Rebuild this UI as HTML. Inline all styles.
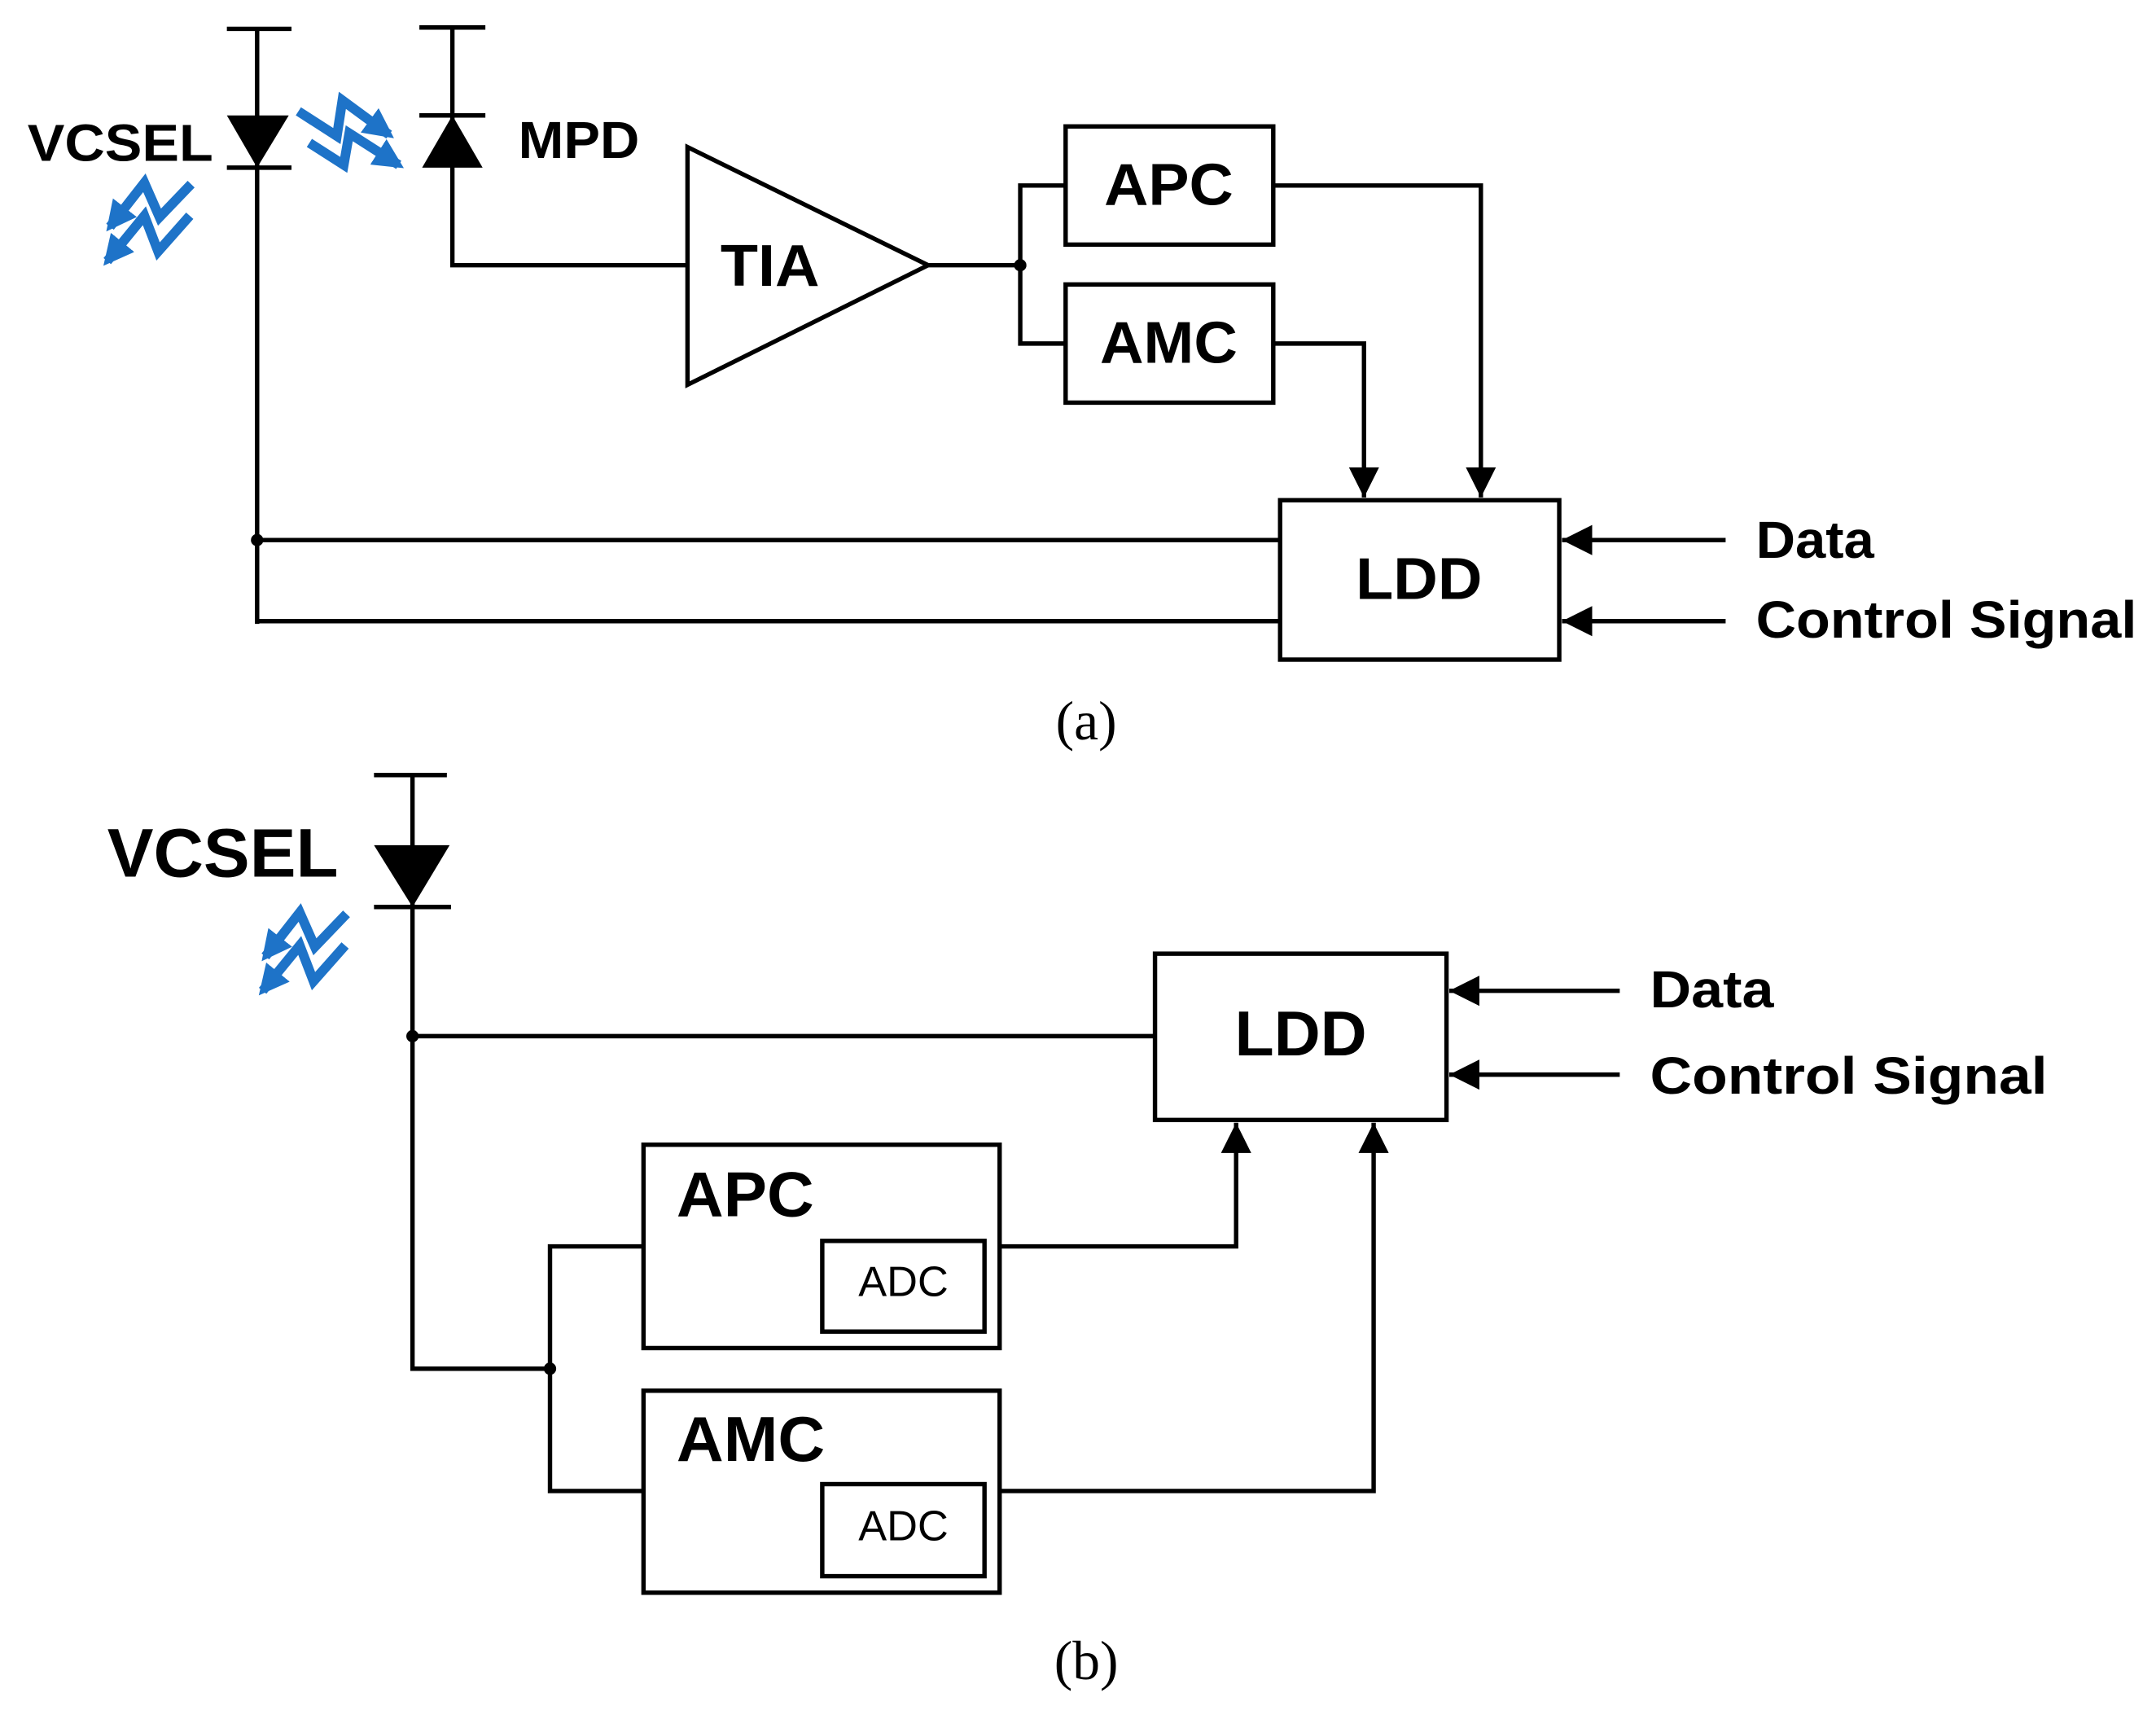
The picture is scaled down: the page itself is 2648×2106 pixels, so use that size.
<!DOCTYPE html>
<html><head><meta charset="utf-8"><style>html,body{margin:0;padding:0;background:#fff}svg{display:block}</style></head>
<body>
<svg width="2648" height="2106" viewBox="0 0 1568 1248" preserveAspectRatio="none" xmlns="http://www.w3.org/2000/svg">
<defs>
<marker id="ah" viewBox="0 0 22 22" refX="22" refY="11" markerWidth="22" markerHeight="22" markerUnits="userSpaceOnUse" orient="auto"><path d="M0,0 L22,11 L0,22 Z" fill="#000"/></marker>
<marker id="bh" viewBox="0 0 10 10" refX="8" refY="5" markerWidth="22" markerHeight="22" markerUnits="userSpaceOnUse" orient="auto"><path d="M0,0 L10,5 L0,10 Z" fill="#1e73c8"/></marker>
</defs>
<g fill="none" stroke="#000" stroke-width="3.2">
<line x1="165" y1="21" x2="212" y2="21"/>
<line x1="187" y1="21" x2="187" y2="454"/>
<line x1="165" y1="122" x2="212" y2="122"/>
<line x1="305" y1="20" x2="353" y2="20"/>
<line x1="305" y1="84" x2="353" y2="84"/>
<polyline points="329,20 329,193 500,193"/>
<polygon points="500,107 500,280 675,193"/>
<line x1="675" y1="193" x2="742" y2="193"/>
<polyline points="775,135 742,135 742,250 775,250"/>
<rect x="775" y="92" width="151" height="86"/>
<rect x="775" y="207" width="151" height="86"/>
<polyline points="926,135 1077,135 1077,362" marker-end="url(#ah)"/>
<polyline points="926,250 992,250 992,362" marker-end="url(#ah)"/>
<rect x="931" y="364" width="203" height="116"/>
<line x1="187" y1="393" x2="931" y2="393"/>
<line x1="187" y1="452" x2="931" y2="452"/>
<line x1="1255" y1="393" x2="1136" y2="393" marker-end="url(#ah)"/>
<line x1="1255" y1="452" x2="1136" y2="452" marker-end="url(#ah)"/>
<line x1="272" y1="564" x2="325" y2="564"/>
<line x1="272" y1="660" x2="328" y2="660"/>
<polyline points="300,564 300,996 400,996"/>
<line x1="300" y1="754" x2="840" y2="754"/>
<rect x="840" y="694" width="212" height="121"/>
<line x1="1178" y1="721" x2="1054" y2="721" marker-end="url(#ah)"/>
<line x1="1178" y1="782" x2="1054" y2="782" marker-end="url(#ah)"/>
<polyline points="468,907 400,907 400,1085 468,1085"/>
<rect x="468" y="833" width="259" height="148"/>
<rect x="598" y="903" width="118" height="66"/>
<rect x="468" y="1012" width="259" height="147"/>
<rect x="598" y="1080" width="118" height="67"/>
<polyline points="727,907 899,907 899,817" marker-end="url(#ah)"/>
<polyline points="727,1085 999,1085 999,817" marker-end="url(#ah)"/>
</g>
<polygon points="165,84 210,84 187,122" fill="#000"/>
<polygon points="329,84 307,122 351,122" fill="#000"/>
<polygon points="272,615 327,615 300,660" fill="#000"/>
<circle cx="742" cy="193" r="4.5"/><circle cx="187" cy="393" r="4.5"/>
<circle cx="300" cy="754" r="4.5"/><circle cx="400" cy="996" r="4.5"/>
<g fill="none" stroke="#1e73c8" stroke-width="7" stroke-linejoin="miter">
<g id="ic">
<polyline points="139,134 116,158 105,133 80,165" marker-end="url(#bh)"/>
<polyline points="138,157 115,183 105,157 78,190" marker-end="url(#bh)"/>
</g>
<use href="#ic" transform="translate(113,531)"/>
<polyline points="217,81 245,99 249,73 283,98" marker-end="url(#bh)"/>
<polyline points="225,104 250,120 254,97 290,120" marker-end="url(#bh)"/>
</g>
<g font-family="Liberation Sans, Arial, sans-serif" font-weight="bold" fill="#000">
<text x="20" y="117" font-size="38" textLength="135" lengthAdjust="spacingAndGlyphs">VCSEL</text>
<text x="377" y="115" font-size="38" textLength="88" lengthAdjust="spacingAndGlyphs">MPD</text>
<text x="524" y="208" font-size="43" textLength="72" lengthAdjust="spacingAndGlyphs">TIA</text>
<text x="850" y="149" font-size="43" text-anchor="middle" textLength="94" lengthAdjust="spacingAndGlyphs">APC</text>
<text x="850" y="264" font-size="43" text-anchor="middle" textLength="100" lengthAdjust="spacingAndGlyphs">AMC</text>
<text x="1032" y="436" font-size="43" text-anchor="middle" textLength="92" lengthAdjust="spacingAndGlyphs">LDD</text>
<text x="1277" y="406" font-size="38" textLength="86" lengthAdjust="spacingAndGlyphs">Data</text>
<text x="1277" y="464" font-size="38" textLength="277" lengthAdjust="spacingAndGlyphs">Control Signal</text>
<text x="78" y="638" font-size="50" textLength="168" lengthAdjust="spacingAndGlyphs">VCSEL</text>
<text x="946" y="768" font-size="46" text-anchor="middle" textLength="96" lengthAdjust="spacingAndGlyphs">LDD</text>
<text x="1200" y="733" font-size="38" textLength="90" lengthAdjust="spacingAndGlyphs">Data</text>
<text x="1200" y="796" font-size="38" textLength="289" lengthAdjust="spacingAndGlyphs">Control Signal</text>
<text x="492" y="885" font-size="46" textLength="100" lengthAdjust="spacingAndGlyphs">APC</text>
<text x="492" y="1063" font-size="46" textLength="108" lengthAdjust="spacingAndGlyphs">AMC</text>
<text x="657" y="943" font-size="31" font-weight="normal" text-anchor="middle">ADC</text>
<text x="657" y="1121" font-size="31" font-weight="normal" text-anchor="middle">ADC</text>
</g>
<g font-family="Liberation Serif, serif" font-size="40" fill="#000" text-anchor="middle">
<text x="790" y="538">(a)</text>
<text x="790" y="1222">(b)</text>
</g>
</svg>
</body></html>
